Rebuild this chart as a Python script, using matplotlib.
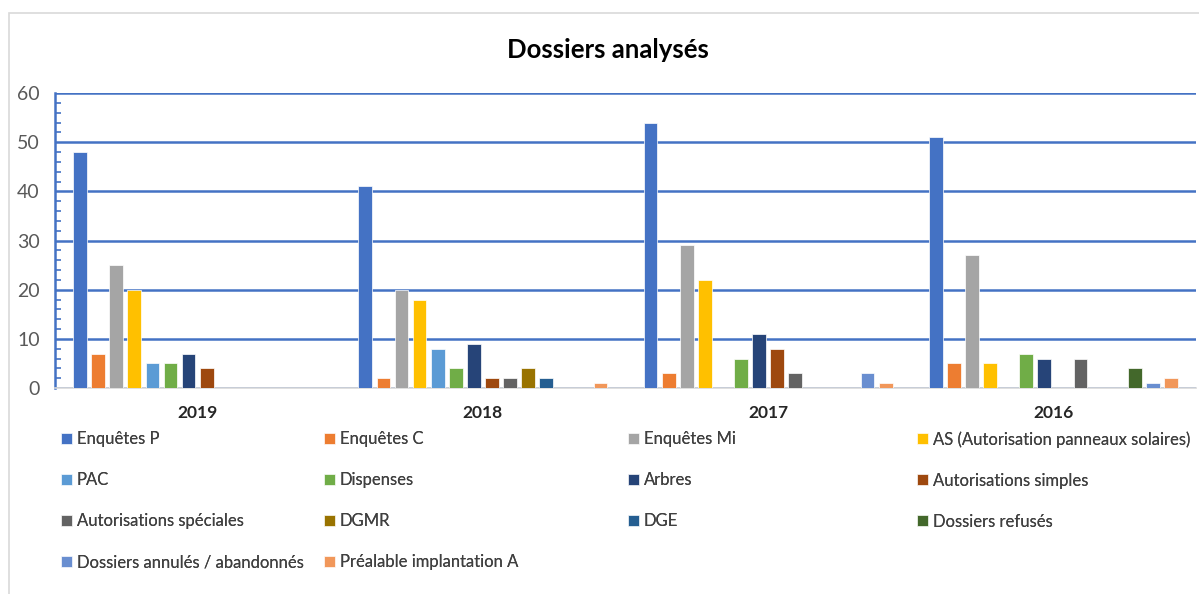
import numpy as np
import matplotlib.pyplot as plt
from matplotlib.patches import Rectangle

plt.rcParams['font.family'] = ['Lato', 'DejaVu Sans']

# donnees
annees = ['2019', '2018', '2017', '2016']
series = ['Enquêtes P', 'Enquêtes C', 'Enquêtes Mi', 'AS (Autorisation panneaux solaires)',
          'PAC', 'Dispenses', 'Arbres', 'Autorisations simples',
          'Autorisations spéciales', 'DGMR', 'DGE', 'Dossiers refusés',
          'Dossiers annulés / abandonnés', 'Préalable implantation A']
enquetes_p = [48, 41, 54, 51]
enquetes_c = [7, 2, 3, 5]
enquetes_mi = [25, 20, 29, 27]
autor_solaires = [20, 18, 22, 5]
pac = [5, 8, 0, 0]
dispenses = [5, 4, 6, 7]
arbres = [7, 9, 11, 6]
autor_simples = [4, 2, 8, 0]
autor_speciales = [0, 2, 3, 6]
dgmr = [0, 4, 0, 0]
dge = [0, 2, 0, 0]
refuses = [0, 0, 0, 4]
annules = [0, 0, 3, 1]
prealable = [0, 1, 1, 2]
valeurs = [enquetes_p, enquetes_c, enquetes_mi, autor_solaires, pac, dispenses, arbres,
           autor_simples, autor_speciales, dgmr, dge, refuses, annules, prealable]
couleurs = ['#4472C4', '#ED7D31', '#A5A5A5', '#FFC000', '#5B9BD5', '#70AD47', '#264478',
            '#9E480E', '#636363', '#997300', '#255E91', '#43682B', '#698ED0', '#F1975A']

fig = plt.figure(figsize=(11.99, 5.94), dpi=100)
W, H = 1199, 594
ax = fig.add_axes([55 / W, 1 - 388 / H, (1196 - 55) / W, (388 - 93) / H])

# cadre du graphique
fig.patches.append(Rectangle((9 / W, -0.1), 1.2, 1 - 13 / H + 0.1, transform=fig.transFigure,
                             fill=False, edgecolor='#D9D9D9', linewidth=1.2))

n = len(series)
slot = 253 / 285 / n
x = np.arange(len(annees))
barres = []
for i in range(n):
    pos = x - 253 / 285 / 2 + slot * (i + 0.5)
    b = ax.bar(pos, valeurs[i], width=slot * 0.76, color=couleurs[i],
               edgecolor='white', linewidth=0.5, label=series[i], zorder=3)
    barres.append(b)

ax.set_xlim(-0.5, len(annees) - 0.5)
ax.set_ylim(0, 60)
ax.set_yticks(range(0, 61, 10))
ax.set_yticks(range(0, 61, 2), minor=True)
ax.yaxis.grid(True, color='#4472C4', linewidth=1.8, zorder=0)
ax.set_xticks(x)
ax.set_xticklabels(annees, fontsize=12.5, fontweight='bold', color='#262626')
ax.tick_params(axis='x', length=0, pad=12)
ax.tick_params(axis='y', which='major', length=0, labelsize=14, labelcolor='#595959', pad=11)
ax.tick_params(axis='y', which='minor', direction='in', length=4, color='#4472C4', width=1.2)
for s in ['top', 'right']:
    ax.spines[s].set_visible(False)
ax.spines['left'].set_color('#4472C4')
ax.spines['left'].set_linewidth(1.8)
ax.spines['bottom'].set_color('#D9D9D9')
ax.spines['bottom'].set_linewidth(1.2)

fig.text(608 / W, 1 - 50 / H, 'Dossiers analysés', ha='center', va='center',
         fontsize=18.5, fontweight='bold', color='black')

# legende en 4 colonnes
cols_x = [46, 309, 613, 902]
for c in range(4):
    idx = list(range(c, n, 4))
    leg = fig.legend([barres[i] for i in idx], [series[i] for i in idx],
                     loc='upper left', bbox_to_anchor=(cols_x[c] / W, 1 - 416 / H),
                     frameon=False, fontsize=12, handlelength=0.65, handleheight=0.65,
                     handletextpad=0.3, labelspacing=1.5, labelcolor='#404040')
    fig.add_artist(leg)

fig.savefig('out.png', dpi=100)
